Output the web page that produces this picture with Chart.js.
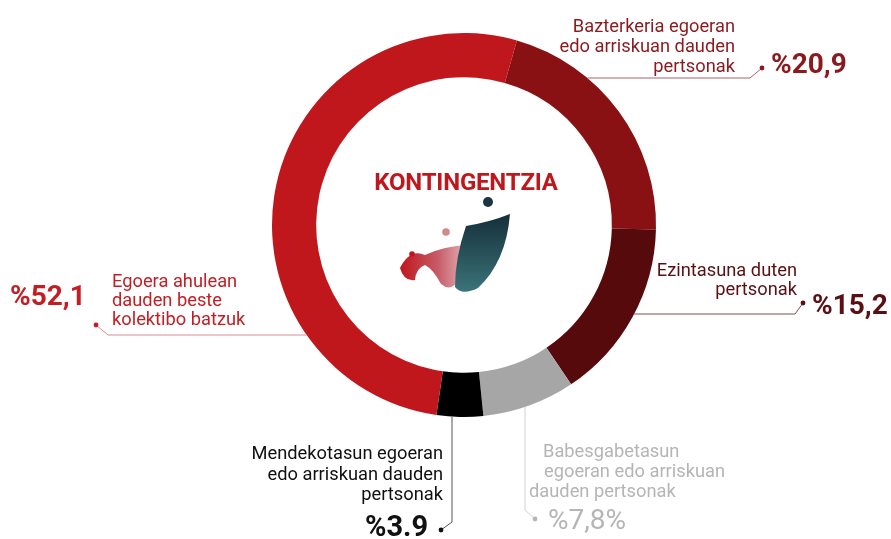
<!DOCTYPE html>
<html lang="eu">
<head>
<meta charset="utf-8">
<title>Kontingentzia</title>
<script src="https://cdn.jsdelivr.net/npm/chart.js@4.4.1/dist/chart.umd.min.js"></script>
<style>
  html, body { margin: 0; padding: 0; background: #fff; }
  #wrap { position: relative; width: 891px; height: 539px; overflow: hidden; font-family: Roboto, "Noto Sans", sans-serif; }
  #grafikoa { position: absolute; left: 0; top: 0; }
  .etiketa { position: absolute; font-size: 18.3px; line-height: 20px; white-space: nowrap; }
  .ehunekoa { position: absolute; font-size: 28px; line-height: 28px; font-weight: 700; white-space: nowrap; }
  .erdia { position: absolute; left: 0; width: 932px; top: 170px; line-height: 24px; text-align: center; font-size: 24px; font-weight: 700; color: #c0171c; letter-spacing: -0.2px; }
</style>
</head>
<body>
<div id="wrap">
  <canvas id="grafikoa" width="891" height="539"></canvas>
  <div class="erdia">KONTINGENTZIA</div>
</div>
<script>
/* Datuak — erlojuaren norantzan, goiko segmentutik hasita */
const kategoriak = [
  ['Bazterkeria egoeran', 'edo arriskuan dauden', 'pertsonak'],
  ['Ezintasuna duten', 'pertsonak'],
  ['Babesgabetasun', 'egoeran edo arriskuan', 'dauden pertsonak'],
  ['Mendekotasun egoeran', 'edo arriskuan dauden', 'pertsonak'],
  ['Egoera ahulean', 'dauden beste', 'kolektibo batzuk']
];
const portzentajeak = [20.9, 15.2, 7.8, 3.9, 52.1];
const balioTestuak = ['%20,9', '%15,2', '%7,8%', '%3.9', '%52,1'];

// koloreak (eraztuna eta testuak bereiz)
const segmentuKoloreak = ['#8a1113', '#560a0b', '#a6a6a6', '#000000', '#c0171c'];
const testuKoloreak = ['#8b1a1e', '#5a1012', '#b5b5b5', '#111111', '#c41e24'];
const lerroKoloreak = ['#a86266', '#7e5254', '#d2d2d2', '#555555', '#da8e92'];

/* Etiketen kokapena: testua eta marra non doazen (ez datuak) */
const etiketaKokapenak = [
  { testua: { right: 156, top: 16, align: 'right' }, zenbakia: { left: 771, top: 50 },
    marra: { mota: 'h', y: 78, amaiera: 750, puntua: [762, 68] } },
  { testua: { right: 94, top: 260, align: 'right', lh: 19 }, zenbakia: { left: 812, top: 291 },
    marra: { mota: 'h', y: 314, amaiera: 795, puntua: [803, 303] } },
  { testua: { left: 529, top: 441, align: 'left', koska: [14, 15, 0] }, zenbakia: { left: 548, top: 506, pisua: 400 },
    marra: { mota: 'v', x: 525, amaiera: 510, puntua: [535, 519] } },
  { testua: { right: 448, top: 443, align: 'right', lh: 20.5 }, zenbakia: { left: 365, top: 512, tamaina: 29 },
    marra: { mota: 'v', x: 452, amaiera: 522, puntua: [441, 530] } },
  { testua: { left: 112, top: 271, align: 'left', lh: 19 }, zenbakia: { left: 10, top: 282 },
    marra: { mota: 'h', y: 335, amaiera: 108, puntua: [96, 325] } }
];

const wrap = document.getElementById('wrap');
kategoriak.forEach((lerroak, i) => {
  const k = etiketaKokapenak[i];
  const el = document.createElement('div');
  el.className = 'etiketa';
  el.style.color = testuKoloreak[i];
  el.style.textAlign = k.testua.align;
  el.style.top = k.testua.top + 'px';
  if (k.testua.lh) el.style.lineHeight = k.testua.lh + 'px';
  if (k.testua.align === 'right') el.style.right = k.testua.right + 'px';
  else el.style.left = k.testua.left + 'px';
  el.innerHTML = lerroak.map((l, j) => {
    const koska = k.testua.koska ? k.testua.koska[j] : 0;
    return `<div style="padding-left:${koska}px">${l}</div>`;
  }).join('');
  wrap.appendChild(el);

  const zb = document.createElement('div');
  zb.className = 'ehunekoa';
  zb.textContent = balioTestuak[i];
  zb.style.color = testuKoloreak[i];
  zb.style.left = k.zenbakia.left + 'px';
  zb.style.top = k.zenbakia.top + 'px';
  if (k.zenbakia.pisua) zb.style.fontWeight = k.zenbakia.pisua;
  if (k.zenbakia.tamaina) zb.style.fontSize = k.zenbakia.tamaina + 'px';
  wrap.appendChild(zb);
});

// Marra gidariak: eraztunaren kanpoko ertzetik etiketaraino
const marraPlugina = {
  id: 'marrak',
  afterDatasetsDraw(chart) {
    const arc = chart.getDatasetMeta(0).data[0];
    const cx = arc.x, cy = arc.y, R = arc.outerRadius;
    const ctx = chart.ctx;
    ctx.save();
    ctx.lineWidth = 1;
    etiketaKokapenak.forEach((k, i) => {
      const m = k.marra;
      let x0, y0;
      if (m.mota === 'h') {
        const dx = Math.sqrt(Math.max(R * R - (m.y - cy) * (m.y - cy), 0));
        x0 = m.amaiera > cx ? cx + dx : cx - dx;
        y0 = m.y;
      } else {
        x0 = m.x;
        y0 = cy + Math.sqrt(Math.max(R * R - (m.x - cx) * (m.x - cx), 0));
      }
      ctx.strokeStyle = lerroKoloreak[i];
      ctx.beginPath();
      ctx.moveTo(x0, y0);
      if (m.mota === 'h') ctx.lineTo(m.amaiera, m.y);
      else ctx.lineTo(m.x, m.amaiera);
      ctx.lineTo(m.puntua[0], m.puntua[1]);
      ctx.stroke();
      ctx.fillStyle = testuKoloreak[i];
      ctx.beginPath();
      ctx.arc(m.puntua[0], m.puntua[1], 2.4, 0, Math.PI * 2);
      ctx.fill();
    });
    ctx.restore();
  }
};

// Logoa erdian (apaingarria)
const logoPlugina = {
  id: 'logoa',
  afterDraw(chart) {
    const ctx = chart.ctx;
    ctx.save();
    // zinta gorria
    const gGorria = ctx.createLinearGradient(400, 0, 468, 0);
    gGorria.addColorStop(0, '#c0171c');
    gGorria.addColorStop(0.55, '#c65a66');
    gGorria.addColorStop(1, '#e6b7bd');
    ctx.fillStyle = gGorria;
    ctx.beginPath();
    ctx.moveTo(400, 268);
    ctx.quadraticCurveTo(410, 248, 425, 255);
    ctx.quadraticCurveTo(444, 246, 468, 245);
    ctx.lineTo(460, 278);
    ctx.quadraticCurveTo(452, 293, 441, 284);
    ctx.quadraticCurveTo(433, 269, 425, 265);
    ctx.quadraticCurveTo(416, 268, 415, 280);
    ctx.quadraticCurveTo(404, 282, 400, 268);
    ctx.closePath();
    ctx.fill();
    // zinta urdin iluna
    const gUrdina = ctx.createLinearGradient(0, 216, 0, 292);
    gUrdina.addColorStop(0, '#16303b');
    gUrdina.addColorStop(1, '#3b7479');
    ctx.fillStyle = gUrdina;
    ctx.beginPath();
    ctx.moveTo(466, 226);
    ctx.quadraticCurveTo(490, 222, 510, 214);
    ctx.quadraticCurveTo(506, 262, 478, 288);
    ctx.quadraticCurveTo(462, 296, 455, 287);
    ctx.quadraticCurveTo(455, 258, 466, 226);
    ctx.closePath();
    ctx.fill();
    // puntuak
    [[488, 202, 5, '#1b3641'], [446, 232, 3.8, '#cf8a8c'], [412, 254, 2.8, '#c0171c']].forEach(([x, y, r, c]) => {
      ctx.fillStyle = c;
      ctx.beginPath();
      ctx.arc(x, y, r, 0, Math.PI * 2);
      ctx.fill();
    });
    ctx.restore();
  }
};

new Chart(document.getElementById('grafikoa'), {
  type: 'doughnut',
  data: {
    labels: kategoriak.map(l => l.join(' ')),
    datasets: [{
      data: portzentajeak,
      backgroundColor: segmentuKoloreak,
      borderWidth: 0,
      offset: 0,
      hoverOffset: 0
    }]
  },
  options: {
    responsive: false,
    animation: false,
    events: [],
    rotation: 16,
    cutout: '77%',
    layout: { padding: { left: 272, top: 33, right: 235, bottom: 122 } },
    plugins: { legend: { display: false }, tooltip: { enabled: false } }
  },
  plugins: [marraPlugina, logoPlugina]
});
</script>
</body>
</html>
